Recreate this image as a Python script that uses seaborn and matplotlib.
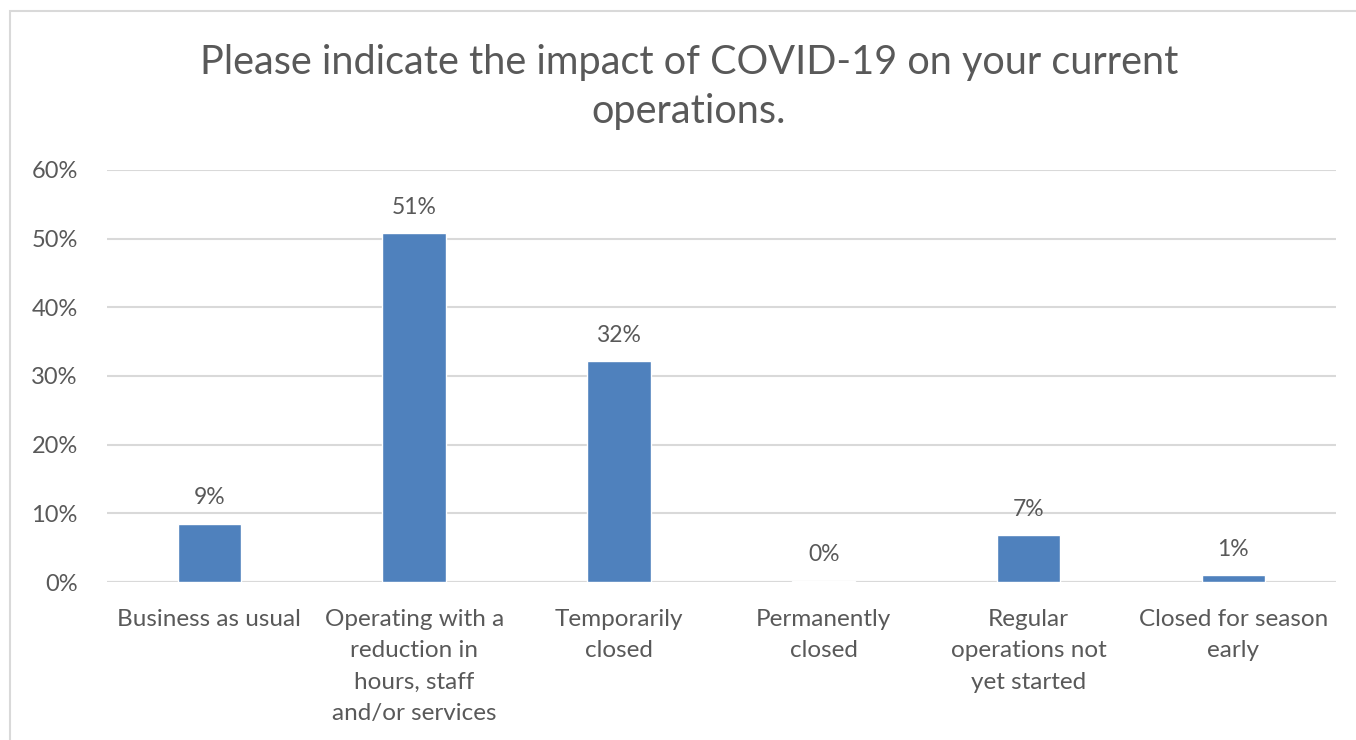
import pandas as pd
import matplotlib.pyplot as plt
from matplotlib.patches import Rectangle
from matplotlib.ticker import PercentFormatter
import seaborn as sns

categories = [
    "Business as usual",
    "Operating with a\nreduction in\nhours, staff\nand/or services",
    "Temporarily\nclosed",
    "Permanently\nclosed",
    "Regular\noperations not\nyet started",
    "Closed for season\nearly",
]
shares = [0.085, 0.508, 0.322, 0.002, 0.068, 0.010]
bar_labels = ["9%", "51%", "32%", "0%", "7%", "1%"]
title = "Please indicate the impact of COVID-19 on your current\noperations."

text_color = "#595959"
grid_color = "#d9d9d9"
bar_color = "#4f81bd"

sns.set_theme(style="white")
plt.rcParams["font.family"] = ["Lato", "DejaVu Sans"]

df = pd.DataFrame({"category": categories, "share": shares})

fig = plt.figure(figsize=(13.56, 7.4), dpi=100)
ax = fig.add_axes([0.0789, 0.2135, 0.985 - 0.0789, 0.7703 - 0.2135])

sns.barplot(data=df, x="category", y="share", color=bar_color,
            saturation=1, width=0.31, ax=ax)

ax.set_ylim(0, 0.6)
ax.set_yticks([0, 0.1, 0.2, 0.3, 0.4, 0.5, 0.6])
ax.yaxis.set_major_formatter(PercentFormatter(1.0, decimals=0))
ax.yaxis.grid(True, color=grid_color, linewidth=1.5)
ax.set_axisbelow(True)
ax.set_xlabel("")
ax.set_ylabel("")
for s in ax.spines.values():
    s.set_visible(False)
ax.axhline(0, color=grid_color, linewidth=1.5, zorder=0)

ax.tick_params(axis="y", length=0, pad=21, labelsize=17, labelcolor=text_color)
ax.tick_params(axis="x", length=0, pad=19.5, labelsize=17.5, labelcolor=text_color)
for lbl in ax.get_xticklabels():
    lbl.set_linespacing(1.61)
    lbl.set_verticalalignment("top")

ax.bar_label(ax.containers[0], labels=bar_labels, padding=11,
             fontsize=16.5, color=text_color)

fig.text(0.508, 0.882, title, ha="center", va="center", fontsize=28.5,
         color=text_color, linespacing=1.39)

# outer chart frame (cropped at right and bottom in the reference)
fig.patches.append(Rectangle((10 / 1356, -0.05), 1.1, 1 - 11 / 740 + 0.05,
                             transform=fig.transFigure, fill=False,
                             edgecolor=grid_color, linewidth=1.5))

fig.savefig("out.png", dpi=100)
